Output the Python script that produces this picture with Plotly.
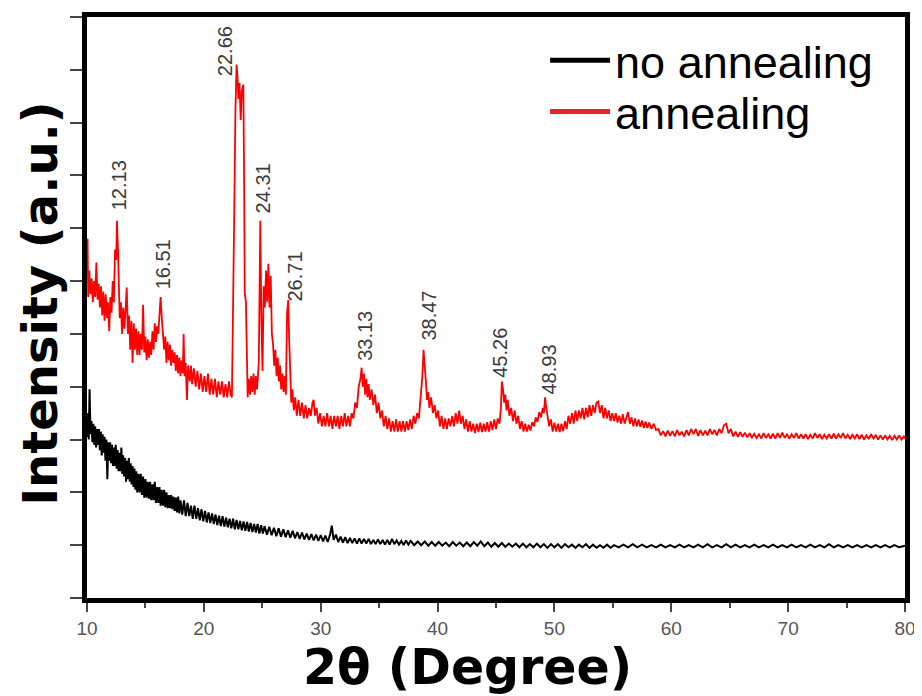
import plotly.graph_objects as go

# ---------------- data ----------------
annealing_pts = [
    (10.0, 6.1), (10.05, 6.8), (10.1, 5.7), (10.2, 6.2), (10.3, 5.75), (10.4, 6.05), (10.5, 5.6), (10.6, 6.0),
    (10.7, 5.7), (10.8, 6.35), (10.9, 5.65), (11.0, 5.95), (11.1, 5.5), (11.2, 5.9), (11.3, 5.35), (11.4, 5.8),
    (11.5, 5.25), (11.6, 5.75), (11.7, 5.3), (11.8, 5.6), (11.9, 5.05), (12.0, 5.7), (12.1, 5.4), (12.2, 6.0),
    (12.3, 5.6), (12.4, 6.6), (12.5, 6.4), (12.56, 7.14), (12.65, 6.6), (12.72, 5.6), (12.8, 5.3), (12.9, 5.6),
    (13.0, 5.0), (13.1, 5.5), (13.2, 5.1), (13.3, 5.45), (13.4, 5.88), (13.5, 5.0), (13.6, 5.35), (13.7, 4.7),
    (13.8, 5.25), (13.9, 4.45), (14.0, 5.2), (14.1, 4.7), (14.2, 5.1), (14.3, 4.6), (14.4, 5.05), (14.5, 4.6),
    (14.6, 5.0), (14.7, 4.7), (14.8, 5.55), (14.9, 4.65), (15.0, 4.95), (15.1, 4.5), (15.2, 4.9), (15.3, 4.55),
    (15.4, 4.85), (15.5, 4.6), (15.6, 5.05), (15.7, 4.7), (15.8, 5.2), (15.9, 4.85), (16.0, 5.15), (16.1, 5.0),
    (16.2, 5.4), (16.3, 5.7), (16.4, 5.3), (16.5, 4.9), (16.6, 4.7), (16.7, 4.95), (16.8, 4.45), (16.9, 4.85),
    (17.0, 4.5), (17.1, 4.8), (17.2, 4.4), (17.3, 4.7), (17.4, 4.45), (17.5, 4.65), (17.6, 4.3), (17.7, 4.6),
    (17.8, 4.25), (17.9, 4.55), (18.0, 4.2), (18.1, 4.5), (18.2, 4.25), (18.27, 5.0), (18.35, 4.2), (18.45, 4.45),
    (18.55, 3.75), (18.65, 4.4), (18.8, 4.1), (18.9, 4.4), (19.0, 4.05), (19.15, 4.35), (19.3, 4.0), (19.45, 4.3),
    (19.6, 3.95), (19.75, 4.25), (19.9, 3.9), (20.05, 4.2), (20.2, 3.9), (20.35, 4.25), (20.5, 3.85), (20.65, 4.15),
    (20.8, 3.85), (20.95, 4.15), (21.1, 3.8), (21.25, 4.1), (21.4, 3.85), (21.55, 4.1), (21.7, 3.8), (21.85, 4.05),
    (22.0, 3.8), (22.15, 4.1), (22.3, 3.85), (22.4, 3.8),
    (22.5, 5.2), (22.6, 7.3), (22.7, 9.2), (22.8, 10.1), (22.87, 9.9), (22.95, 9.45), (23.05, 9.75), (23.15, 9.05),
    (23.25, 9.6), (23.38, 9.72), (23.45, 7.8), (23.5, 5.77), (23.6, 5.6), (23.75, 3.8), (23.85, 4.15), (23.95, 3.85),
    (24.05, 4.2), (24.15, 3.9), (24.25, 4.25), (24.35, 3.85), (24.45, 4.2), (24.55, 3.95), (24.7, 4.45), (24.83, 7.14),
    (24.92, 5.3), (25.02, 4.3), (25.12, 5.9), (25.22, 5.5), (25.32, 6.2), (25.42, 5.6), (25.52, 6.33), (25.62, 5.5),
    (25.72, 6.1), (25.82, 5.0), (25.92, 4.8), (26.02, 4.4), (26.12, 4.7), (26.22, 4.2), (26.32, 4.55), (26.42, 4.1),
    (26.52, 4.4), (26.62, 3.95), (26.72, 4.25), (26.82, 3.9), (26.92, 4.2), (27.02, 3.85), (27.12, 5.4), (27.22, 5.64),
    (27.3, 4.9), (27.4, 4.2), (27.48, 3.7), (27.58, 3.95), (27.7, 3.55), (27.82, 3.8), (27.95, 3.45), (28.1, 3.75),
    (28.25, 3.45), (28.4, 3.7), (28.55, 3.4), (28.7, 3.65), (28.85, 3.4), (29.0, 3.6), (29.15, 3.45), (29.3, 3.7),
    (29.4, 3.75), (29.5, 3.45), (29.65, 3.6), (29.8, 3.3), (29.95, 3.5), (30.1, 3.25), (30.25, 3.45), (30.4, 3.25),
    (30.55, 3.5), (30.7, 3.25), (30.85, 3.45), (31.0, 3.2), (31.15, 3.45), (31.3, 3.25), (31.45, 3.45), (31.6, 3.2),
    (31.75, 3.45), (31.9, 3.25), (32.05, 3.5), (32.2, 3.25), (32.35, 3.45), (32.5, 3.25), (32.65, 3.5), (32.8, 3.4),
    (32.95, 3.7), (33.1, 3.6), (33.25, 4.0), (33.4, 4.15), (33.5, 4.36), (33.6, 4.0), (33.7, 4.25), (33.8, 3.85),
    (33.9, 4.15), (34.0, 3.8), (34.1, 4.05), (34.2, 3.75), (34.35, 3.95), (34.5, 3.65), (34.65, 3.85), (34.8, 3.5),
    (34.95, 3.7), (35.1, 3.4), (35.25, 3.55), (35.4, 3.25), (35.55, 3.45), (35.7, 3.2), (35.85, 3.4), (36.0, 3.15),
    (36.15, 3.35), (36.3, 3.15), (36.45, 3.38), (36.6, 3.15), (36.75, 3.35), (36.9, 3.15), (37.05, 3.35), (37.2, 3.15),
    (37.35, 3.35), (37.5, 3.18), (37.65, 3.38), (37.8, 3.2), (37.95, 3.45), (38.1, 3.3), (38.25, 3.5), (38.4, 3.4),
    (38.55, 3.8), (38.7, 4.2), (38.8, 4.7), (38.9, 4.45), (39.0, 4.1), (39.1, 3.75), (39.2, 3.9), (39.3, 3.6),
    (39.45, 3.8), (39.6, 3.5), (39.75, 3.65), (39.9, 3.4), (40.05, 3.55), (40.2, 3.25), (40.35, 3.45), (40.5, 3.2),
    (40.65, 3.4), (40.8, 3.2), (40.95, 3.4), (41.1, 3.25), (41.25, 3.45), (41.4, 3.25), (41.55, 3.5), (41.7, 3.3),
    (41.85, 3.55), (42.0, 3.3), (42.15, 3.45), (42.3, 3.2), (42.45, 3.38), (42.6, 3.15), (42.75, 3.35), (42.9, 3.15),
    (43.05, 3.3), (43.2, 3.12), (43.35, 3.3), (43.5, 3.14), (43.65, 3.32), (43.8, 3.14), (43.95, 3.3), (44.1, 3.15),
    (44.25, 3.33), (44.4, 3.15), (44.55, 3.35), (44.7, 3.18), (44.85, 3.38), (45.0, 3.2), (45.15, 3.4), (45.3, 3.3),
    (45.42, 3.6), (45.5, 4.1), (45.6, 3.95), (45.7, 3.7), (45.8, 3.85), (45.9, 3.55), (46.0, 3.75), (46.15, 3.45),
    (46.3, 3.6), (46.45, 3.35), (46.6, 3.55), (46.75, 3.3), (46.9, 3.45), (47.05, 3.2), (47.2, 3.35), (47.35, 3.15),
    (47.5, 3.3), (47.65, 3.15), (47.8, 3.28), (47.95, 3.17), (48.1, 3.33), (48.25, 3.25), (48.4, 3.42), (48.55, 3.33),
    (48.7, 3.52), (48.85, 3.42), (49.0, 3.6), (49.1, 3.5), (49.2, 3.8), (49.3, 3.6), (49.4, 3.45), (49.55, 3.25),
    (49.7, 3.38), (49.85, 3.15), (50.0, 3.32), (50.15, 3.15), (50.3, 3.3), (50.45, 3.14), (50.6, 3.3), (50.75, 3.16),
    (50.9, 3.35), (51.05, 3.2), (51.2, 3.45), (51.35, 3.3), (51.5, 3.5), (51.65, 3.3), (51.8, 3.55), (51.95, 3.35),
    (52.1, 3.55), (52.25, 3.4), (52.4, 3.6), (52.55, 3.38), (52.7, 3.6), (52.85, 3.42), (53.0, 3.65), (53.15, 3.45),
    (53.3, 3.65), (53.45, 3.5), (53.6, 3.7), (53.75, 3.72), (53.9, 3.5), (54.05, 3.65), (54.2, 3.4), (54.35, 3.6),
    (54.5, 3.4), (54.65, 3.55), (54.8, 3.35), (54.95, 3.5), (55.1, 3.35), (55.25, 3.5), (55.4, 3.32), (55.55, 3.45),
    (55.7, 3.3), (55.85, 3.48), (56.0, 3.3), (56.15, 3.42), (56.3, 3.52), (56.45, 3.3), (56.6, 3.42), (56.75, 3.25),
    (56.9, 3.4), (57.05, 3.25), (57.2, 3.38), (57.35, 3.24), (57.5, 3.36), (57.65, 3.22), (57.8, 3.34), (57.95, 3.22),
    (58.1, 3.32), (58.3, 3.2), (58.5, 3.3), (58.7, 3.18), (58.9, 3.2), (59.1, 3.08), (59.3, 3.16), (59.5, 3.06),
    (59.7, 3.17), (59.9, 3.07), (60.1, 3.16), (60.3, 3.06), (60.5, 3.18), (60.7, 3.08), (60.9, 3.15), (61.1, 3.06),
    (61.3, 3.18), (61.5, 3.08), (61.7, 3.2), (61.9, 3.1), (62.1, 3.2), (62.3, 3.07), (62.5, 3.18), (62.7, 3.08),
    (62.9, 3.17), (63.1, 3.08), (63.3, 3.2), (63.5, 3.1), (63.7, 3.18), (63.9, 3.08), (64.1, 3.2), (64.3, 3.12),
    (64.5, 3.27), (64.7, 3.3), (64.9, 3.12), (65.1, 3.2), (65.3, 3.06), (65.5, 3.15), (65.7, 3.05), (65.9, 3.14),
    (66.1, 3.05), (66.3, 3.13), (66.5, 3.04), (66.7, 3.12), (66.9, 3.04), (67.1, 3.11), (67.3, 3.03), (67.5, 3.1),
    (67.7, 3.02), (67.9, 3.12), (68.1, 3.03), (68.3, 3.1), (68.5, 3.02), (68.7, 3.11), (68.9, 3.02), (69.1, 3.12),
    (69.3, 3.03), (69.5, 3.13), (69.7, 3.03), (69.9, 3.1), (70.1, 3.02), (70.3, 3.1), (70.5, 3.03), (70.7, 3.12),
    (70.9, 3.02), (71.1, 3.1), (71.3, 3.02), (71.5, 3.1), (71.7, 3.01), (71.9, 3.09), (72.1, 3.02), (72.3, 3.12),
    (72.5, 3.03), (72.7, 3.1), (72.9, 3.01), (73.1, 3.09), (73.3, 3.02), (73.5, 3.1), (73.7, 3.02), (73.9, 3.11),
    (74.1, 3.02), (74.3, 3.1), (74.5, 3.03), (74.7, 3.12), (74.9, 3.02), (75.1, 3.09), (75.3, 3.01), (75.5, 3.09),
    (75.7, 3.02), (75.9, 3.1), (76.1, 3.01), (76.3, 3.09), (76.5, 3.0), (76.7, 3.08), (76.9, 3.01), (77.1, 3.1),
    (77.3, 3.02), (77.5, 3.09), (77.7, 3.0), (77.9, 3.08), (78.1, 3.0), (78.3, 3.08), (78.5, 3.0), (78.7, 3.07),
    (78.9, 2.99), (79.1, 3.07), (79.3, 3.0), (79.5, 3.08), (79.7, 3.0), (79.9, 3.06), (80.0, 3.02),
]

no_annealing_pts = [
    (10.0, 3.3), (10.05, 3.05), (10.1, 3.5), (10.15, 3.0), (10.22, 3.95), (10.3, 3.1), (10.38, 3.35), (10.46, 2.95),
    (10.54, 3.3), (10.62, 2.9), (10.7, 3.25), (10.78, 2.85), (10.86, 3.2), (10.94, 2.9), (11.02, 3.2), (11.1, 2.8),
    (11.18, 3.15), (11.26, 2.7), (11.34, 3.1), (11.42, 2.75), (11.5, 3.05), (11.58, 2.6), (11.66, 3.0), (11.74, 2.25),
    (11.82, 2.95), (11.9, 2.6), (11.98, 2.95), (12.06, 2.55), (12.14, 2.9), (12.22, 2.5), (12.3, 2.85), (12.38, 2.5),
    (12.46, 2.9), (12.54, 2.45), (12.62, 2.8), (12.7, 2.4), (12.78, 2.75), (12.86, 2.4), (12.94, 2.85), (13.02, 2.35),
    (13.1, 2.7), (13.18, 2.3), (13.26, 2.65), (13.34, 2.2), (13.42, 2.6), (13.5, 2.25), (13.58, 2.65), (13.66, 2.2),
    (13.74, 2.55), (13.82, 2.15), (13.9, 2.5), (13.98, 2.1), (14.06, 2.45), (14.14, 2.05), (14.22, 2.4), (14.3, 2.0),
    (14.4, 2.35), (14.5, 2.0), (14.6, 2.35), (14.7, 1.95), (14.8, 2.3), (14.9, 1.9), (15.0, 2.25), (15.1, 1.9),
    (15.2, 2.2), (15.3, 1.88), (15.4, 2.2), (15.5, 1.85), (15.6, 2.15), (15.7, 1.85), (15.8, 2.2), (15.9, 1.8),
    (16.0, 2.1), (16.1, 1.8), (16.2, 2.1), (16.3, 1.75), (16.4, 2.05), (16.5, 1.75), (16.6, 2.05), (16.7, 1.72),
    (16.8, 2.0), (16.9, 1.7), (17.0, 1.95), (17.1, 1.7), (17.2, 1.95), (17.3, 1.68), (17.4, 1.92), (17.5, 1.65),
    (17.6, 1.9), (17.7, 1.62), (17.8, 1.92), (17.9, 1.6), (18.0, 1.85), (18.15, 1.58), (18.3, 1.85), (18.45, 1.55),
    (18.6, 1.8), (18.75, 1.55), (18.9, 1.75), (19.05, 1.5), (19.2, 1.75), (19.35, 1.5), (19.5, 1.7), (19.65, 1.47),
    (19.8, 1.68), (19.95, 1.45), (20.1, 1.65), (20.25, 1.43), (20.4, 1.62), (20.55, 1.42), (20.7, 1.6), (20.85, 1.4),
    (21.0, 1.58), (21.15, 1.38), (21.3, 1.56), (21.45, 1.36), (21.6, 1.55), (21.75, 1.35), (21.9, 1.52), (22.05, 1.34),
    (22.2, 1.5), (22.35, 1.32), (22.5, 1.5), (22.65, 1.3), (22.8, 1.48), (22.95, 1.3), (23.1, 1.46), (23.25, 1.28),
    (23.4, 1.45), (23.55, 1.27), (23.7, 1.44), (23.85, 1.26), (24.0, 1.42), (24.15, 1.25), (24.3, 1.4), (24.45, 1.24),
    (24.6, 1.4), (24.75, 1.22), (24.9, 1.38), (25.05, 1.22), (25.2, 1.36), (25.4, 1.2), (25.6, 1.35), (25.8, 1.19),
    (26.0, 1.33), (26.2, 1.17), (26.4, 1.32), (26.6, 1.16), (26.8, 1.3), (27.0, 1.15), (27.2, 1.28), (27.4, 1.14),
    (27.6, 1.27), (27.8, 1.13), (28.0, 1.25), (28.2, 1.12), (28.4, 1.24), (28.6, 1.11), (28.8, 1.22), (29.0, 1.1),
    (29.2, 1.21), (29.4, 1.09), (29.6, 1.2), (29.8, 1.08), (30.0, 1.19), (30.2, 1.07), (30.4, 1.18), (30.6, 1.06),
    (30.8, 1.2), (30.95, 1.37), (31.1, 1.1), (31.3, 1.2), (31.5, 1.06), (31.7, 1.16), (31.9, 1.05), (32.1, 1.15),
    (32.3, 1.04), (32.5, 1.14), (32.7, 1.04), (32.9, 1.13), (33.1, 1.03), (33.3, 1.13), (33.5, 1.03), (33.7, 1.12),
    (33.9, 1.03), (34.1, 1.12), (34.3, 1.02), (34.5, 1.1), (34.7, 1.02), (34.9, 1.11), (35.1, 1.02), (35.3, 1.1),
    (35.5, 1.01), (35.7, 1.1), (35.9, 1.01), (36.1, 1.12), (36.3, 1.02), (36.5, 1.09), (36.7, 1.01), (36.9, 1.08),
    (37.1, 1.0), (37.3, 1.09), (37.5, 1.01), (37.7, 1.08), (38.0, 1.0), (38.3, 1.07), (38.6, 1.0), (38.9, 1.07),
    (39.2, 0.99), (39.5, 1.06), (39.8, 0.99), (40.1, 1.06), (40.4, 0.99), (40.7, 1.05), (41.0, 0.98), (41.3, 1.06),
    (41.6, 0.99), (41.9, 1.05), (42.2, 0.98), (42.5, 1.05), (42.8, 0.98), (43.1, 1.06), (43.4, 0.99), (43.7, 1.07),
    (44.0, 0.98), (44.3, 1.05), (44.6, 0.97), (44.9, 1.04), (45.2, 0.97), (45.5, 1.04), (45.8, 0.97), (46.1, 1.03),
    (46.4, 0.97), (46.7, 1.03), (47.0, 0.96), (47.3, 1.03), (47.6, 0.96), (47.9, 1.02), (48.2, 0.96), (48.5, 1.03),
    (48.8, 0.96), (49.1, 1.02), (49.4, 0.95), (49.7, 1.02), (50.0, 0.96), (50.3, 1.02), (50.6, 0.95), (50.9, 1.02),
    (51.2, 0.96), (51.5, 1.01), (51.8, 0.95), (52.1, 1.01), (52.4, 0.96), (52.7, 1.02), (53.0, 0.95), (53.3, 1.01),
    (53.6, 0.95), (53.9, 1.0), (54.2, 0.95), (54.5, 1.01), (54.8, 0.95), (55.1, 1.0), (55.5, 0.96), (55.9, 1.01),
    (56.3, 0.96), (56.7, 1.02), (57.1, 0.96), (57.5, 1.01), (57.9, 0.96), (58.3, 1.0), (58.7, 0.96), (59.1, 1.01),
    (59.5, 0.96), (59.9, 1.0), (60.3, 0.96), (60.7, 1.01), (61.1, 0.96), (61.5, 1.0), (61.9, 0.96), (62.3, 1.01),
    (62.7, 0.96), (63.1, 1.02), (63.5, 0.96), (63.9, 1.0), (64.3, 0.96), (64.7, 1.02), (65.1, 0.96), (65.5, 1.01),
    (65.9, 0.96), (66.3, 1.0), (66.7, 0.96), (67.1, 1.01), (67.5, 0.96), (67.9, 1.0), (68.3, 0.96), (68.7, 1.01),
    (69.1, 0.96), (69.5, 1.0), (69.9, 0.96), (70.3, 1.01), (70.7, 0.96), (71.1, 1.0), (71.5, 0.96), (71.9, 1.01),
    (72.3, 0.96), (72.7, 1.0), (73.1, 0.96), (73.5, 1.02), (73.9, 0.96), (74.3, 1.0), (74.7, 0.96), (75.1, 1.0),
    (75.5, 0.96), (75.9, 1.0), (76.3, 0.96), (76.7, 1.0), (77.1, 0.96), (77.5, 1.0), (77.9, 0.96), (78.3, 1.0),
    (78.7, 0.96), (79.1, 1.0), (79.5, 0.96), (80.0, 0.99),
]

annealing_x = [p[0] for p in annealing_pts]
annealing_y = [p[1] for p in annealing_pts]
no_annealing_x = [p[0] for p in no_annealing_pts]
no_annealing_y = [p[1] for p in no_annealing_pts]

# peak labels: text, 2-theta position of label, intensity at label foot
peak_labels = ["12.13", "16.51", "22.66", "24.31", "26.71", "33.13", "38.47", "45.26", "48.93"]
peak_label_x = [12.81, 16.48, 21.76, 25.09, 27.82, 33.78, 39.24, 45.38, 49.56]
peak_label_y = [7.30, 5.80, 9.85, 7.25, 5.58, 4.45, 4.83, 4.14, 3.82]

x_ticks = [10, 20, 30, 40, 50, 60, 70, 80]
x_minor = [15, 25, 35, 45, 55, 65, 75]
y_ticks = list(range(0, 12))

x_title = "2θ (Degree)"
y_title = "Intensity (a.u.)"

# ---------------- figure ----------------
fig = go.Figure()
fig.add_trace(go.Scatter(x=no_annealing_x, y=no_annealing_y, mode="lines", name="no annealing",
                         line=dict(color="#000000", width=2.0), showlegend=False))
fig.add_trace(go.Scatter(x=annealing_x, y=annealing_y, mode="lines", name="annealing",
                         line=dict(color="#ff0000", width=1.8), showlegend=False))
# legend entries (thicker line samples), one legend per row
fig.add_trace(go.Scatter(x=[None], y=[None], mode="lines", name="no annealing",
                         line=dict(color="#000000", width=5), legend="legend"))
fig.add_trace(go.Scatter(x=[None], y=[None], mode="lines", name="annealing",
                         line=dict(color="#e3262d", width=5), legend="legend2"))

for t, lx, ly in zip(peak_labels, peak_label_x, peak_label_y):
    fig.add_annotation(x=lx, y=ly, text=t, textangle=-90, showarrow=False,
                       xanchor="center", yanchor="bottom",
                       font=dict(family="Liberation Sans, Arial", size=20, color="#3a3a3a"))

# axis titles
fig.add_annotation(xref="paper", yref="paper", x=0.465, y=-0.119, text=x_title, showarrow=False,
                   xanchor="center", yanchor="middle",
                   font=dict(family="DejaVu Sans", size=49, color="#000000", weight="bold"))
fig.add_annotation(xref="paper", yref="paper", x=-0.057, y=0.507, text=y_title, showarrow=False,
                   textangle=-90, xanchor="center", yanchor="middle",
                   font=dict(family="DejaVu Sans", size=48, color="#000000", weight="bold"))

legend_font = dict(family="Liberation Sans, Arial", size=45, color="#000000")
fig.update_layout(
    template="none",
    width=914, height=688,
    margin=dict(l=79, r=17, t=9, b=98),
    plot_bgcolor="white", paper_bgcolor="white",
    showlegend=True,
    legend=dict(x=0.56, y=0.925, xanchor="left", yanchor="middle",
                bgcolor="rgba(0,0,0,0)", borderwidth=0, itemwidth=60, font=legend_font),
    legend2=dict(x=0.56, y=0.837, xanchor="left", yanchor="middle",
                 bgcolor="rgba(0,0,0,0)", borderwidth=0, itemwidth=60, font=legend_font),
    xaxis=dict(range=[10, 80], tickvals=x_ticks, ticks="outside", ticklen=9, tickwidth=1.5,
               tickcolor="#444444", showline=True, linewidth=5, linecolor="#000000", mirror=True,
               showgrid=False, zeroline=False, automargin=False,
               minor=dict(tickvals=x_minor, ticks="outside", ticklen=5, tickwidth=1.5, tickcolor="#444444"),
               tickfont=dict(family="Liberation Sans, Arial", size=19, color="#555555")),
    yaxis=dict(range=[0, 11], tickvals=y_ticks, ticks="outside", ticklen=12, tickwidth=1.5,
               tickcolor="#444444", showticklabels=False, showline=True, linewidth=5,
               linecolor="#000000", mirror=True, showgrid=False, zeroline=False, automargin=False),
)

fig.write_html("out.html")
